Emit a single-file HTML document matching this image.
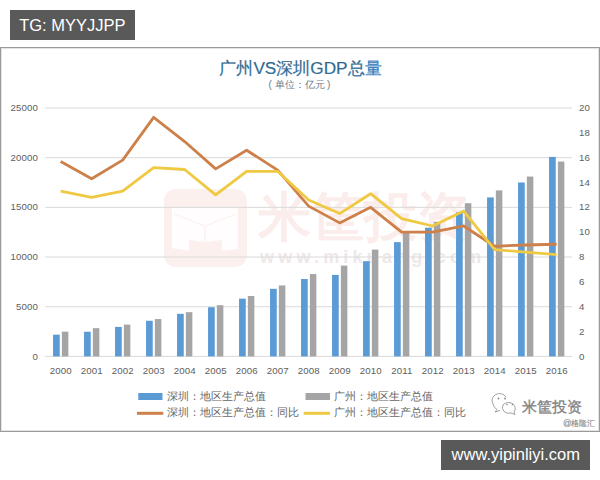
<!DOCTYPE html>
<html><head><meta charset="utf-8">
<style>
html,body{margin:0;padding:0;background:#fff;}
body{width:600px;height:480px;position:relative;overflow:hidden;font-family:"Liberation Sans",sans-serif;}
.tag{position:absolute;background:#595959;color:#fff;font-size:16.5px;line-height:30px;height:30px;}
#tg{left:10px;top:10px;width:125px;text-indent:9.2px;}
#url{left:441px;top:440px;width:149px;text-indent:10.6px;line-height:28px;height:30px;}
#frame{position:absolute;left:0;top:47px;width:600px;height:385px;border:1.3px solid #9a9a9a;box-sizing:border-box;box-shadow:inset 1px 1px 0 #e4e4e4, inset -1px -1px 0 #e4e4e4;}
svg{position:absolute;left:0;top:0;}
.ax{font-size:9.7px;letter-spacing:0.1px;fill:#5e5e5e;font-family:"Liberation Sans",sans-serif;}
.lg{position:absolute;font-size:11px;color:#666666;white-space:nowrap;line-height:12px;}
</style></head><body>
<div class="tag" id="tg">TG: MYYJJPP</div>
<div id="frame"></div>
<svg width="600" height="480" viewBox="0 0 600 480">
<rect x="164" y="189" width="83" height="78" rx="12" fill="#fcf0ef"/>
<path d="M172 208 L238 208 L238 249 L222 251 L222 240 L205 242 L189 240 L189 251 L172 248 Z" fill="#fffdfd"/>
<path d="M174 214 L205 226 L236 214 M205 226 L205 242" fill="none" stroke="#fcf1f0" stroke-width="1.2"/>
<text x="258" y="235" font-size="53" font-weight="bold" fill="#fbedeb" font-family="Liberation Sans, sans-serif" letter-spacing="0">米筐投资</text>
<text x="260" y="263" font-size="18" font-weight="bold" fill="#eee8e8" font-family="Liberation Sans, sans-serif" letter-spacing="4.2">www.mikuang.com</text>
<line x1="45.15" y1="356.40" x2="572.15" y2="356.40" stroke="#d9d9d9" stroke-width="1"/>
<line x1="45.15" y1="306.72" x2="572.15" y2="306.72" stroke="#d9d9d9" stroke-width="1"/>
<line x1="45.15" y1="257.04" x2="572.15" y2="257.04" stroke="#d9d9d9" stroke-width="1"/>
<line x1="45.15" y1="207.36" x2="572.15" y2="207.36" stroke="#d9d9d9" stroke-width="1"/>
<line x1="45.15" y1="157.68" x2="572.15" y2="157.68" stroke="#d9d9d9" stroke-width="1"/>
<line x1="45.15" y1="108.00" x2="572.15" y2="108.00" stroke="#d9d9d9" stroke-width="1"/>
<rect x="53.05" y="334.67" width="6.7" height="21.73" fill="#5b9bd5"/>
<rect x="61.85" y="331.64" width="6.5" height="24.76" fill="#a5a5a5"/>
<rect x="84.05" y="331.74" width="6.7" height="24.66" fill="#5b9bd5"/>
<rect x="92.85" y="328.16" width="6.5" height="28.24" fill="#a5a5a5"/>
<rect x="115.05" y="326.90" width="6.7" height="29.50" fill="#5b9bd5"/>
<rect x="123.85" y="324.57" width="6.5" height="31.83" fill="#a5a5a5"/>
<rect x="146.05" y="320.78" width="6.7" height="35.62" fill="#5b9bd5"/>
<rect x="154.85" y="319.06" width="6.5" height="37.34" fill="#a5a5a5"/>
<rect x="177.05" y="313.85" width="6.7" height="42.55" fill="#5b9bd5"/>
<rect x="185.85" y="312.18" width="6.5" height="44.22" fill="#a5a5a5"/>
<rect x="208.05" y="307.22" width="6.7" height="49.18" fill="#5b9bd5"/>
<rect x="216.85" y="305.19" width="6.5" height="51.21" fill="#a5a5a5"/>
<rect x="239.05" y="298.64" width="6.7" height="57.76" fill="#5b9bd5"/>
<rect x="247.85" y="295.98" width="6.5" height="60.42" fill="#a5a5a5"/>
<rect x="270.05" y="288.83" width="6.7" height="67.57" fill="#5b9bd5"/>
<rect x="278.85" y="285.46" width="6.5" height="70.94" fill="#a5a5a5"/>
<rect x="301.05" y="279.03" width="6.7" height="77.37" fill="#5b9bd5"/>
<rect x="309.85" y="274.06" width="6.5" height="82.34" fill="#a5a5a5"/>
<rect x="332.05" y="274.91" width="6.7" height="81.49" fill="#5b9bd5"/>
<rect x="340.85" y="265.60" width="6.5" height="90.80" fill="#a5a5a5"/>
<rect x="363.05" y="261.20" width="6.7" height="95.20" fill="#5b9bd5"/>
<rect x="371.85" y="249.61" width="6.5" height="106.79" fill="#a5a5a5"/>
<rect x="394.05" y="242.12" width="6.7" height="114.28" fill="#5b9bd5"/>
<rect x="402.85" y="232.97" width="6.5" height="123.43" fill="#a5a5a5"/>
<rect x="425.05" y="227.73" width="6.7" height="128.67" fill="#5b9bd5"/>
<rect x="433.85" y="221.76" width="6.5" height="134.64" fill="#a5a5a5"/>
<rect x="456.05" y="212.33" width="6.7" height="144.07" fill="#5b9bd5"/>
<rect x="464.85" y="203.19" width="6.5" height="153.21" fill="#a5a5a5"/>
<rect x="487.05" y="197.40" width="6.7" height="159.00" fill="#5b9bd5"/>
<rect x="495.85" y="190.40" width="6.5" height="166.00" fill="#a5a5a5"/>
<rect x="518.05" y="182.49" width="6.7" height="173.91" fill="#5b9bd5"/>
<rect x="526.85" y="176.56" width="6.5" height="179.84" fill="#a5a5a5"/>
<rect x="549.05" y="156.90" width="6.7" height="199.50" fill="#5b9bd5"/>
<rect x="557.85" y="161.55" width="6.5" height="194.85" fill="#a5a5a5"/>
<polyline points="60.65,161.41 91.65,178.79 122.65,160.16 153.65,117.31 184.65,141.53 215.65,168.86 246.65,150.23 277.65,170.10 308.65,206.12 339.65,222.88 370.65,207.36 401.65,232.20 432.65,232.20 463.65,225.99 494.65,246.23 525.65,244.99 556.65,244.25" fill="none" stroke="#cd8049" stroke-width="2.8" stroke-linejoin="round" stroke-linecap="butt"/>
<polyline points="60.65,191.21 91.65,197.42 122.65,191.21 153.65,167.62 184.65,169.48 215.65,194.94 246.65,171.34 277.65,171.34 308.65,199.91 339.65,213.57 370.65,193.70 401.65,218.54 432.65,225.99 463.65,211.09 494.65,249.59 525.65,252.07 556.65,254.56" fill="none" stroke="#efc942" stroke-width="2.8" stroke-linejoin="round" stroke-linecap="butt"/>
<text x="37.9" y="359.50" text-anchor="end" class="ax">0</text>
<text x="37.9" y="309.82" text-anchor="end" class="ax">5000</text>
<text x="37.9" y="260.14" text-anchor="end" class="ax">10000</text>
<text x="37.9" y="210.46" text-anchor="end" class="ax">15000</text>
<text x="37.9" y="160.78" text-anchor="end" class="ax">20000</text>
<text x="37.9" y="111.10" text-anchor="end" class="ax">25000</text>
<text x="579" y="359.50" class="ax">0</text>
<text x="579" y="334.66" class="ax">2</text>
<text x="579" y="309.82" class="ax">4</text>
<text x="579" y="284.98" class="ax">6</text>
<text x="579" y="260.14" class="ax">8</text>
<text x="579" y="235.30" class="ax">10</text>
<text x="579" y="210.46" class="ax">12</text>
<text x="579" y="185.62" class="ax">14</text>
<text x="579" y="160.78" class="ax">16</text>
<text x="579" y="135.94" class="ax">18</text>
<text x="579" y="111.10" class="ax">20</text>
<text x="60.85" y="374.3" text-anchor="middle" class="ax">2000</text>
<text x="91.85" y="374.3" text-anchor="middle" class="ax">2001</text>
<text x="122.85" y="374.3" text-anchor="middle" class="ax">2002</text>
<text x="153.85" y="374.3" text-anchor="middle" class="ax">2003</text>
<text x="184.85" y="374.3" text-anchor="middle" class="ax">2004</text>
<text x="215.85" y="374.3" text-anchor="middle" class="ax">2005</text>
<text x="246.85" y="374.3" text-anchor="middle" class="ax">2006</text>
<text x="277.85" y="374.3" text-anchor="middle" class="ax">2007</text>
<text x="308.85" y="374.3" text-anchor="middle" class="ax">2008</text>
<text x="339.85" y="374.3" text-anchor="middle" class="ax">2009</text>
<text x="370.85" y="374.3" text-anchor="middle" class="ax">2010</text>
<text x="401.85" y="374.3" text-anchor="middle" class="ax">2011</text>
<text x="432.85" y="374.3" text-anchor="middle" class="ax">2012</text>
<text x="463.85" y="374.3" text-anchor="middle" class="ax">2013</text>
<text x="494.85" y="374.3" text-anchor="middle" class="ax">2014</text>
<text x="525.85" y="374.3" text-anchor="middle" class="ax">2015</text>
<text x="556.85" y="374.3" text-anchor="middle" class="ax">2016</text>
<defs><linearGradient id="ttlgrad" x1="0" y1="0" x2="0" y2="1"><stop offset="0" stop-color="#2c5e7e"/><stop offset="1" stop-color="#3275a6"/></linearGradient></defs><text x="300.5" y="73.6" text-anchor="middle" font-size="17.2" fill="url(#ttlgrad)" stroke="url(#ttlgrad)" stroke-width="0.2" font-family="Liberation Sans, sans-serif">广州VS深圳GDP总<tspan fill="#2e7cbd" stroke="#2e7cbd">量</tspan></text>
<text x="299.5" y="87.5" text-anchor="middle" font-size="10" fill="#6a7a88" font-family="Liberation Sans, sans-serif">单位：亿元</text><text x="268.5" y="87.5" font-size="10" fill="#6a7a88" font-family="Liberation Sans, sans-serif">(</text><text x="330.3" y="87.5" text-anchor="end" font-size="10" fill="#6a7a88" font-family="Liberation Sans, sans-serif">)</text>
<rect x="138.3" y="393" width="24.2" height="7" fill="#5b9bd5"/>
<rect x="305.5" y="393" width="24.5" height="7" fill="#a5a5a5"/>
<line x1="137" y1="413.3" x2="163.3" y2="413.3" stroke="#cd8049" stroke-width="3"/>
<line x1="303.7" y1="413.3" x2="330" y2="413.3" stroke="#efc942" stroke-width="3"/>
<g fill="none" stroke="#969696" stroke-width="0.9">
<path d="M493 404 A7 6.5 0 0 1 506 397"/>
<path d="M493 404 Q494 408 497 409.5 L495 412 L500 410.5"/>
<path d="M503 405 A6.5 5.8 0 1 1 514 412 L515 414.5 L511 413 A6.5 5.8 0 0 1 503 405 Z" />
</g>
<g fill="#8a8a8a"><circle cx="498.5" cy="398.5" r="0.9"/><circle cx="505" cy="398.5" r="0.9"/><circle cx="507" cy="404.5" r="0.8"/><circle cx="512.5" cy="404.5" r="0.8"/></g>
<text x="521.5" y="411.5" font-size="14.5" fill="#858585" stroke="#787878" stroke-width="0.3" letter-spacing="0.3" font-family="Liberation Sans, sans-serif">米筐投资</text>
<text x="563" y="425.8" font-size="8.3" fill="#8c8c8c" stroke="#8c8c8c" stroke-width="0.15" font-family="Liberation Sans, sans-serif">@格隆汇</text>
</svg>
<div class="lg" style="left:167px;top:390px;">深圳：地区生产总值</div>
<div class="lg" style="left:167px;top:406px;">深圳：地区生产总值：同比</div>
<div class="lg" style="left:334px;top:390px;">广州：地区生产总值</div>
<div class="lg" style="left:334px;top:406px;">广州：地区生产总值：同比</div>
<div class="tag" id="url">www.yipinliyi.com</div>
</body></html>
